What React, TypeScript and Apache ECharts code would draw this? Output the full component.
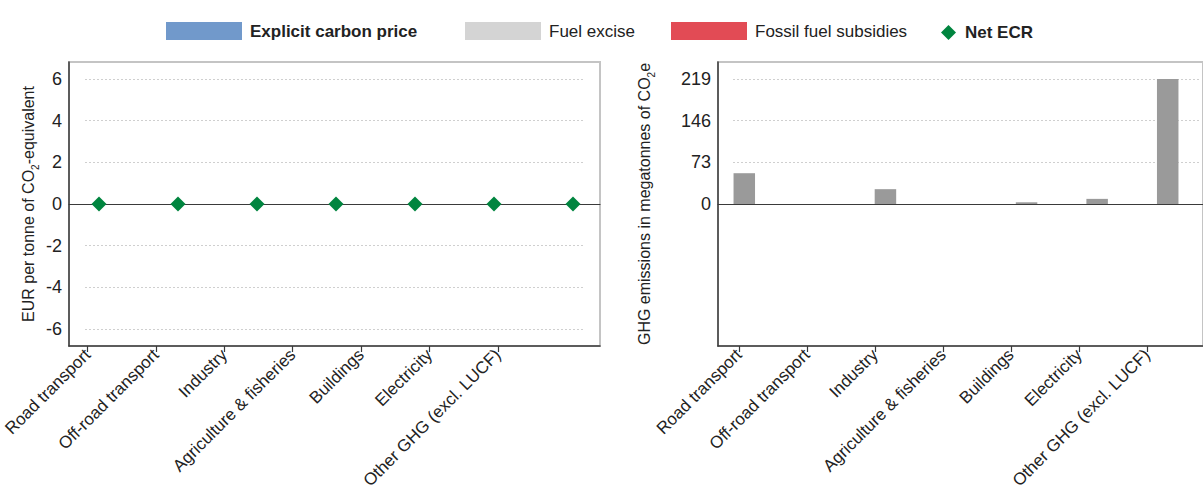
import React, { useEffect, useRef } from 'react';
import * as echarts from 'echarts';

const categories = [
  'Road transport',
  'Off-road transport',
  'Industry',
  'Agriculture & fisheries',
  'Buildings',
  'Electricity',
  'Other GHG (excl. LUCF)',
];
const explicitCarbonPrice = [0, 0, 0, 0, 0, 0, 0];
const fuelExcise = [0, 0, 0, 0, 0, 0, 0];
const fossilFuelSubsidies = [0, 0, 0, 0, 0, 0, 0];
const netECR = [0, 0, 0, 0, 0, 0, 0];
const emissions = [54, 0, 26, 0, 3, 9, 219];
const leftTicks = [-6, -4, -2, 0, 2, 4, 6];
const rightTicks = [0, 73, 146, 219];
const rightGridValues = [73, 146, 219];

const LEFT_MIN = -6.82;
const LEFT_MAX = 6.82;
const RIGHT_MIN = -249;
const RIGHT_MAX = 249;

const FONT = '"Liberation Sans", Arial, sans-serif';
const TEXT = '#222';
const DARK = '#3a3a3a';

const TOP = 62;
const H = 284;

export default function App() {
  const ref = useRef<HTMLDivElement>(null);
  useEffect(() => {
    document.body.style.margin = '0';
    const chart = echarts.init(ref.current!, undefined, { renderer: 'svg' });

    const hiddenCat = (gridIndex: number) => ({
      type: 'category', gridIndex, data: categories, show: false,
    });
    const hiddenVal = (gridIndex: number, min: number, max: number) => ({
      type: 'value', gridIndex, min, max, show: false,
    });
    const zeroLineAxis = (gridIndex: number) => ({
      type: 'category', gridIndex, data: categories, position: 'top',
      axisLine: { show: true, onZero: true, lineStyle: { color: DARK, width: 1.2 } },
      axisTick: { show: false }, axisLabel: { show: false }, splitLine: { show: false },
    });
    const bottomLineAxis = (gridIndex: number) => ({
      type: 'category', gridIndex, data: categories, position: 'bottom',
      axisLine: { show: true, onZero: false, lineStyle: { color: DARK, width: 1.5 } },
      axisTick: { show: false }, axisLabel: { show: false }, splitLine: { show: false },
    });
    const labelAxis = (gridIndex: number) => ({
      type: 'category', gridIndex, data: categories, position: 'bottom',
      axisLine: { show: false, onZero: false },
      axisTick: { show: true, alignWithLabel: true, length: 6, lineStyle: { color: DARK, width: 1.2 } },
      axisLabel: { rotate: 45, interval: 0, margin: 6, fontSize: 17, color: TEXT, fontFamily: FONT },
      splitLine: { show: false },
    });
    const gridLineAxis = (gridIndex: number, min: number, max: number, values: number[]) => ({
      type: 'value', gridIndex, min, max,
      axisLine: { show: false }, axisLabel: { show: false },
      axisTick: { show: false, customValues: values },
      splitLine: { show: true, lineStyle: { color: '#cfcfcf', type: [2, 2], width: 1 } },
    });
    const nameRich = {
      a: { fontSize: 16, color: TEXT, fontFamily: FONT },
      s: { fontSize: 10, color: TEXT, fontFamily: FONT, verticalAlign: 'bottom', padding: [0, 0, -4, 0] },
    };
    const frameValAxis = (gridIndex: number, min: number, max: number, ticks: number[], name: string, nameGap: number) => ({
      type: 'value', gridIndex, min, max,
      name, nameLocation: 'middle', nameGap, nameRotate: 90,
      nameTextStyle: { rich: nameRich },
      axisLine: { show: true, onZero: false, lineStyle: { color: DARK, width: 1.5 } },
      axisTick: { show: false, customValues: ticks },
      axisLabel: { customValues: ticks, fontSize: 18, color: TEXT, fontFamily: FONT, margin: 7 },
      splitLine: { show: false },
    });

    const legendItem = (name: string, left: number, bold: boolean, extra: any = {}) => ({
      show: true, left, top: 17, itemWidth: 76, itemHeight: 18, icon: 'rect',
      data: [{ name, icon: 'rect', textStyle: { fontWeight: bold ? 'bold' : 'normal' } }],
      textStyle: { fontSize: 17, color: TEXT, fontFamily: FONT, padding: [0, 0, 0, 3] },
      selectedMode: false,
      ...extra,
    });

    chart.setOption({
      animation: false,
      backgroundColor: '#ffffff',
      legend: [
        legendItem('Explicit carbon price', 161, true),
        legendItem('Fuel excise', 460, false),
        legendItem('Fossil fuel subsidies', 666, false),
        {
          show: true, left: 936, top: 19, itemWidth: 15, itemHeight: 15, selectedMode: false,
          data: [{ name: 'Net ECR', icon: 'diamond', textStyle: { fontWeight: 'bold' } }],
          textStyle: { fontSize: 17, color: TEXT, fontFamily: FONT, padding: [0, 0, 0, 4] },
        },
      ],
      grid: [
        { left: 69, top: TOP, width: 531, height: H, show: true, borderColor: '#c4c4c4', borderWidth: 2, backgroundColor: 'transparent' },
        { left: 85, top: TOP, width: 499, height: H },
        { left: 59.5, top: TOP, width: 553, height: H },
        { left: 52.5, top: TOP, width: 479.5, height: H },
        { left: 718, top: TOP, width: 497, height: H, show: true, borderColor: '#c4c4c4', borderWidth: 2, backgroundColor: 'transparent' },
        { left: 733, top: TOP, width: 467, height: H },
        { left: 709, top: TOP, width: 514.5, height: H },
        { left: 705, top: TOP, width: 476, height: H },
      ],
      xAxis: [
        zeroLineAxis(0),
        bottomLineAxis(0),
        hiddenCat(1),
        hiddenCat(2),
        labelAxis(3),
        zeroLineAxis(4),
        bottomLineAxis(4),
        hiddenCat(5),
        hiddenCat(6),
        labelAxis(7),
      ],
      yAxis: [
        frameValAxis(0, LEFT_MIN, LEFT_MAX, leftTicks, '{a|EUR per tonne of CO}{s|2}{a|-equivalent}', 33),
        gridLineAxis(1, LEFT_MIN, LEFT_MAX, leftTicks),
        hiddenVal(2, LEFT_MIN, LEFT_MAX),
        hiddenVal(3, LEFT_MIN, LEFT_MAX),
        frameValAxis(4, RIGHT_MIN, RIGHT_MAX, rightTicks, '{a|GHG emissions in megatonnes of CO}{s|2}{a|e}', 66),
        gridLineAxis(5, RIGHT_MIN, RIGHT_MAX, rightGridValues),
        hiddenVal(6, RIGHT_MIN, RIGHT_MAX),
        hiddenVal(7, RIGHT_MIN, RIGHT_MAX),
      ],
      series: [
        { name: 'Explicit carbon price', type: 'bar', stack: 'ecr', xAxisIndex: 3, yAxisIndex: 2, data: explicitCarbonPrice, itemStyle: { color: '#7199cb' }, barWidth: 22 },
        { name: 'Fuel excise', type: 'bar', stack: 'ecr', xAxisIndex: 3, yAxisIndex: 2, data: fuelExcise, itemStyle: { color: '#d4d4d4' }, barWidth: 22 },
        { name: 'Fossil fuel subsidies', type: 'bar', stack: 'ecr', xAxisIndex: 3, yAxisIndex: 2, data: fossilFuelSubsidies, itemStyle: { color: '#e24b55' }, barWidth: 22 },
        { name: 'Net ECR', type: 'scatter', xAxisIndex: 3, yAxisIndex: 2, data: netECR, symbol: 'diamond', symbolSize: [15, 15], itemStyle: { color: '#00853f', opacity: 1 }, z: 10 },
        { name: 'GHG emissions', type: 'bar', xAxisIndex: 8, yAxisIndex: 6, data: emissions, itemStyle: { color: '#9a9a9a' }, barWidth: 21.5, z: 3 },
      ],
    });
    return () => chart.dispose();
  }, []);
  return <div ref={ref} style={{ position: 'absolute', left: 0, top: 0, width: 1203, height: 498 }} />;
}
